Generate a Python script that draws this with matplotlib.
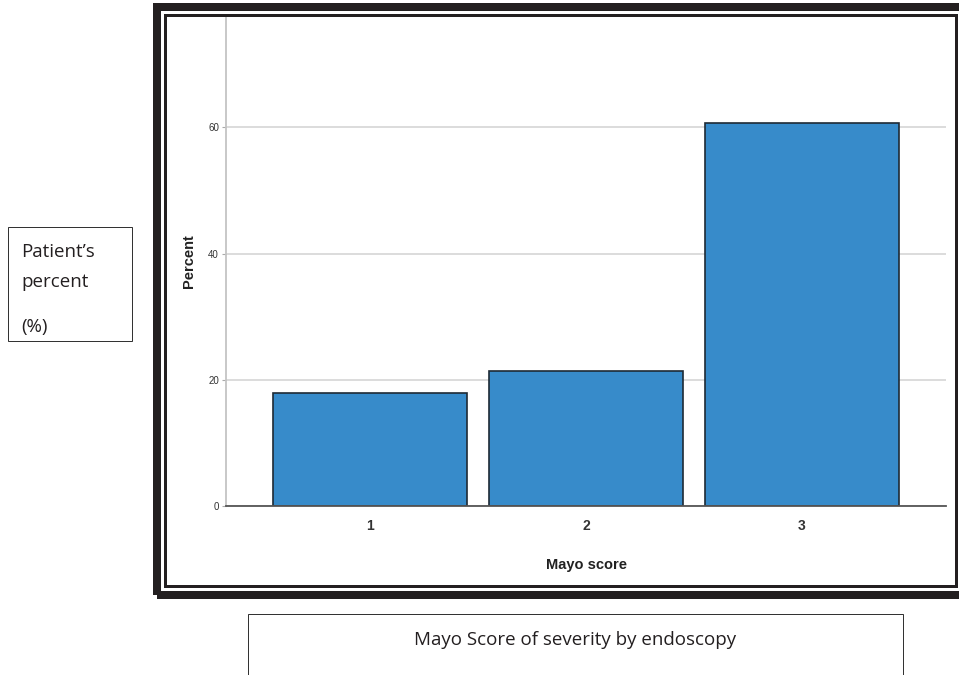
import matplotlib
matplotlib.use("Agg")
import matplotlib.pyplot as plt
from matplotlib.patches import Rectangle

W, H = 959, 675

scores = [1, 2, 3]
score_labels = ["1", "2", "3"]
percents = [17.86, 21.43, 60.71]
y_ticks = [0, 20, 40, 60]

def px_rect(fig, x0, y0, x1, y1, lw, color):
    # rectangle given in pixel coords (origin top-left)
    r = Rectangle((x0 / W, 1 - y1 / H), (x1 - x0) / W, (y1 - y0) / H,
                  transform=fig.transFigure, fill=False, lw=lw * 72 / 100,
                  edgecolor=color, clip_on=False)
    fig.add_artist(r)

fig = plt.figure(figsize=(W / 100, H / 100), dpi=100)
fig.patch.set_facecolor("white")

ax = fig.add_axes([226 / W, 1 - 506 / H, 720 / W, 489 / H])
ax.bar(scores, percents, width=0.9, color="#378bca", edgecolor="#1e2a35",
       linewidth=1.2, zorder=3)
ax.set_xlim(0.333, 3.667)
ax.set_ylim(0, 77.5)
ax.set_yticks(y_ticks)
ax.set_xticks(scores)
ax.set_xticklabels(score_labels)
ax.yaxis.grid(True, color="#d2d2d2", lw=1.1, zorder=0)
ax.set_axisbelow(True)

for s in ["top", "right"]:
    ax.spines[s].set_visible(False)
ax.spines["left"].set_color("#c4c4c4")
ax.spines["left"].set_linewidth(1.3)
ax.spines["bottom"].set_color("#555555")
ax.spines["bottom"].set_linewidth(1.3)
ax.spines["bottom"].set_zorder(4)

ax.tick_params(axis="y", length=3, width=0.8, color="#aaaaaa", pad=2,
               labelsize=7, labelcolor="#333333")
ax.tick_params(axis="x", length=0, pad=9, labelsize=10, labelcolor="#333333")
for t in ax.get_xticklabels():
    t.set_fontweight("bold")
for t in ax.get_xticklabels() + ax.get_yticklabels():
    t.set_family("Liberation Sans")

ax.set_ylabel("Percent", fontsize=10.5, fontweight="bold", family="Liberation Sans",
              color="#222222", labelpad=9)
ax.set_xlabel("Mayo score", fontsize=10.5, fontweight="bold", family="Liberation Sans",
              color="#222222", labelpad=18)

# double frame around the chart
px_rect(fig, 157, 6.5, 965, 595, 8, "#231f20")
px_rect(fig, 164.5, 15, 955.5, 586, 3, "#231f20")

# side label box
px_rect(fig, 8, 227, 132, 341, 1, "#333333")
fig.text(21 / W, 1 - 252 / H, "Patient\u2019s", fontsize=13.5, family="Open Sans",
         color="#231f20", va="center", ha="left")
fig.text(21 / W, 1 - 282 / H, "percent", fontsize=13.5, family="Open Sans",
         color="#231f20", va="center", ha="left")
fig.text(21 / W, 1 - 327 / H, "(%)", fontsize=13.5, family="Open Sans",
         color="#231f20", va="center", ha="left")

# caption box
px_rect(fig, 248, 614, 903, 690, 1, "#333333")
fig.text(575 / W, 1 - 640 / H, "Mayo Score of severity by endoscopy", fontsize=13.5,
         family="Open Sans", color="#231f20", va="center", ha="center")

fig.savefig("out.png", dpi=100)
